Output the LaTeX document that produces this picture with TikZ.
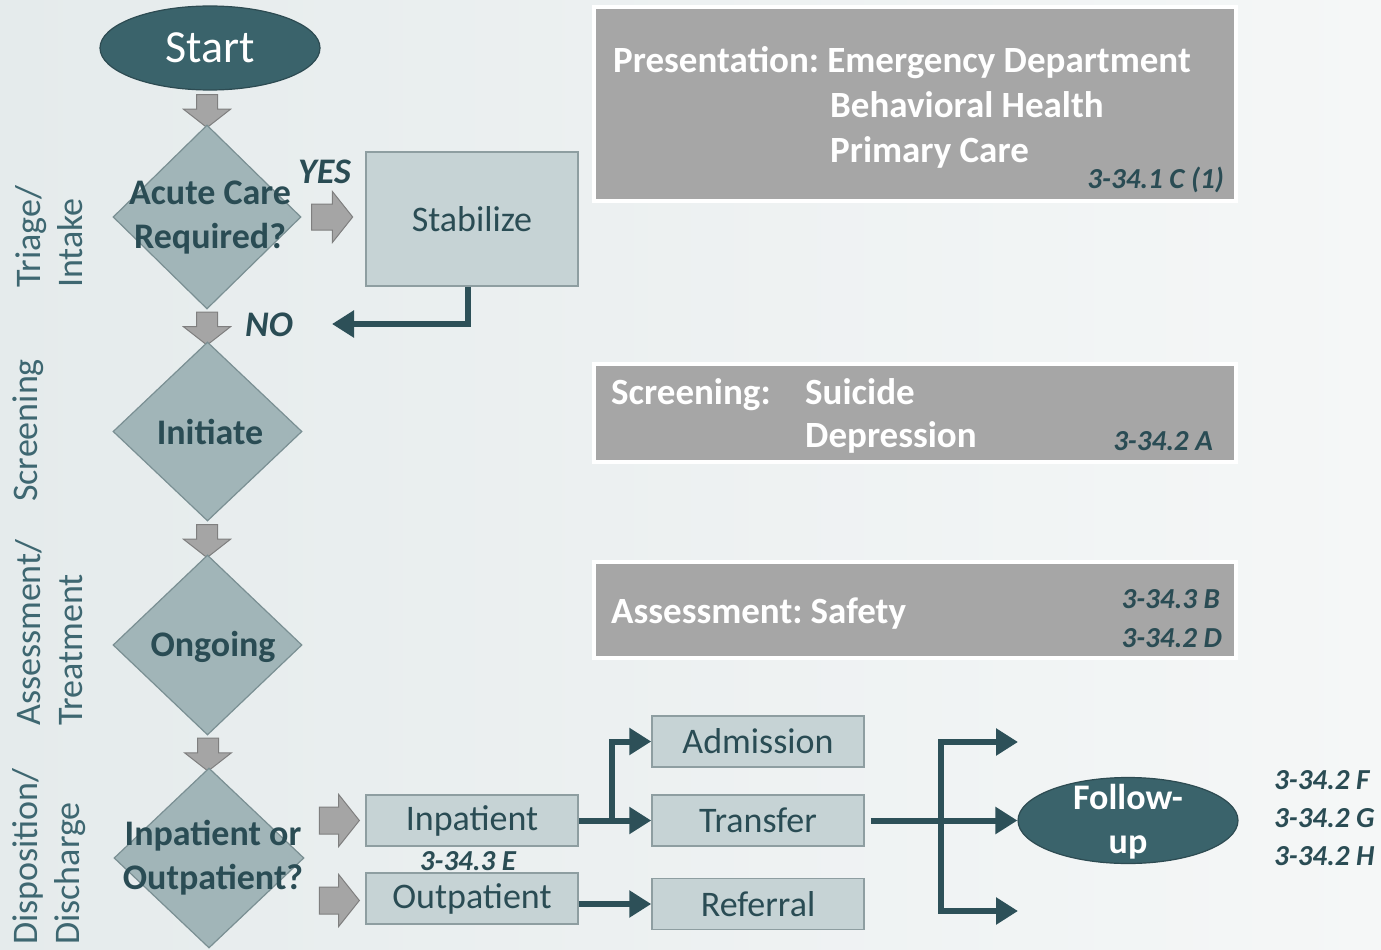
\documentclass[tikz,border=0pt]{standalone}
\usepackage{fontspec}
\setmainfont{Carlito}
\usetikzlibrary{shapes.geometric,shapes.arrows,arrows.meta,calc}
\definecolor{dteal}{RGB}{58,99,107}
\definecolor{dtealB}{RGB}{45,75,82}
\definecolor{txtc}{RGB}{42,76,84}
\definecolor{connc}{RGB}{45,80,88}
\definecolor{diaF}{RGB}{161,181,184}
\definecolor{diaB}{RGB}{122,143,147}
\definecolor{boxF}{RGB}{198,211,213}
\definecolor{boxB}{RGB}{142,158,161}
\definecolor{grayF}{RGB}{166,166,166}
\definecolor{barF}{RGB}{165,165,165}
\definecolor{barB}{RGB}{127,127,127}
\definecolor{sidec}{RGB}{62,103,113}
\definecolor{bgL}{RGB}{229,235,236}
\definecolor{bgR}{RGB}{245,247,247}
\tikzset{
 oval/.style={ellipse, draw=dtealB, fill=dteal, line width=1.2pt, inner sep=0pt, text=white},
 dia/.style={diamond, draw=diaB, fill=diaF, line width=1.2pt, inner sep=0pt},
 dtext/.style={text=txtc, font=\bfseries\fontsize{36}{44}\selectfont, align=center, inner sep=0pt},
 lbox/.style={rectangle, draw=boxB, fill=boxF, line width=1.5pt, minimum width=212, inner sep=0pt, text=txtc, font=\fontsize{36}{44}\selectfont},
 gbox/.style={rectangle, draw=white, fill=grayF, line width=4pt, minimum width=642, inner sep=0pt},
 wtext/.style={text=white, font=\bfseries\fontsize{37}{44}\selectfont, inner sep=0pt},
 reftxt/.style={text=txtc, font=\bfseries\itshape\fontsize{29}{38}\selectfont, inner sep=0pt},
 yn/.style={text=txtc, font=\bfseries\itshape\fontsize{36}{40}\selectfont, inner sep=0pt},
 downarr/.style={single arrow, rotate=-90, draw=barB, fill=barF, line width=1pt, minimum height=33, minimum width=46, single arrow head extend=13, single arrow tip angle=104, inner xsep=0pt, inner ysep=10pt},
 rightarr/.style={single arrow, draw=barB, fill=barF, line width=1pt, minimum height=41, minimum width=50, single arrow head extend=12.5, single arrow tip angle=103, inner xsep=0pt, inner ysep=12.5pt},
 conn/.style={draw=connc, line width=6pt, -{Triangle[length=22pt,width=26pt]}},
 sidelab/.style={text=sidec, font=\fontsize{36}{42}\selectfont, rotate=90, align=left, inner sep=0pt, anchor=west},
}
\begin{document}
\begin{tikzpicture}[x=1pt,y=-1pt]
\useasboundingbox (0,0) rectangle (1381,950);
\shade[left color=bgL, right color=bgR] (0,0) rectangle (1381,950);

% side labels
\node[sidelab] (lt) at (49,288) {Triage/\\Intake};
\node[sidelab] (ls) at (28,502) {Screening};
\node[sidelab] (la) at (49,726) {Assessment/\\Treatment};
\node[sidelab] (ld) at (49,945) {Disposition/\\Discharge};

% main column
\node[oval, minimum width=220, minimum height=84, font=\fontsize{46}{50}\selectfont] (start) at (210,48) {Start};
\node[downarr] (a1) at (207,107) {};
\node[dia, minimum width=188, minimum height=184] (d1) at (207,217) {};
\node[dtext] (t1) at (210,218) {Acute Care\\Required?};
\node[rightarr] (a2) at (327,217) {};
\node[lbox, minimum height=134] (stab) at (472,219) {Stabilize};
\node[yn, anchor=base west] (yes) at (298,183) {YES};
\node[downarr] (a3) at (207,324.5) {};
\node[yn, anchor=base west] (no) at (245,336) {NO};
\coordinate (noend) at (332,324);
\draw[conn] ([xshift=-4pt]stab.south) |- (noend);

\node[dia, minimum width=189, minimum height=179] (d2) at (207.5,431.5) {};
\node[dtext] (t2) at (210,432) {Initiate};
\node[downarr] (a4) at (207,537) {};
\node[dia, minimum width=189, minimum height=180] (d3) at (207.5,645) {};
\node[dtext] (t3) at (213,647) {Ongoing};
\node[downarr] (a5) at (208,750.5) {};
\node[dia, minimum width=190, minimum height=180] (d4) at (209,858) {};
\node[dtext] (t4) at (213,858) {Inpatient or\\Outpatient?};

% disposition
\node[rightarr, minimum height=40, minimum width=51, single arrow head extend=12.5, inner ysep=13pt] (a6) at (334,820.5) {};
\node[rightarr, minimum height=40, minimum width=51, single arrow head extend=12.5, inner ysep=13pt] (a7) at (334,900.5) {};
\node[lbox, minimum height=51] (inp) at (472,820.5) {Inpatient};
\node[lbox, minimum height=51] (outp) at (472,898.5) {Outpatient};
\node[reftxt, anchor=base] (r4) at (468,870) {3-34.3 E};
\node[lbox, minimum height=51] (adm) at (758,741.5) {Admission};
\node[lbox, minimum height=51] (tr) at (758,820.5) {Transfer};
\node[lbox, minimum height=51] (refl) at (758,904) {Referral};

\coordinate (br) at (612,820.5);
\draw[conn] (inp.east) -- (tr.west);
\draw[conn] (br) |- (adm.west);
\draw[conn] (outp.east |- refl.west) -- (refl.west);

\node[oval, minimum width=220, minimum height=86] (fu) at (1128,820.5) {};
\node[wtext, font=\bfseries\fontsize{36}{44}\selectfont, align=center] (fut) at (1128,822) {Follow-\\up};
\draw[conn] ([xshift=6pt]tr.east) -- (fu.west);
\coordinate (vt) at (941,742);
\coordinate (vb) at (941,911);
\coordinate (e1) at (1018,742);
\coordinate (e2) at (1018,911);
\draw[draw=connc, line width=6pt, {Triangle[length=22pt,width=26pt]}-{Triangle[length=22pt,width=26pt]}] (e1) -- (vt) -- (vb) -- (e2);

\node[reftxt, anchor=base west] (rf) at (1274,789) {3-34.2 F};
\node[reftxt, anchor=base west] (rg) at (1274,827) {3-34.2 G};
\node[reftxt, anchor=base west] (rh) at (1274,865) {3-34.2 H};

% gray boxes
\node[gbox, minimum height=194] (pres) at (915,104) {};
\node[wtext, anchor=base west] (p1) at (613,72) {Presentation:\hspace{-3pt} Emergency Department};
\node[wtext, anchor=base west] (p2) at (830,117) {Behavioral Health};
\node[wtext, anchor=base west] (p3) at (830,162) {Primary Care};
\node[reftxt, anchor=base east] (p4) at (1224,188) {3-34.1 C (1)};

\node[gbox, minimum height=98] (scr) at (915,413) {};
\node[wtext, anchor=base west] (s1) at (611,404) {Screening:};
\node[wtext, anchor=base west] (s2) at (805,404) {Suicide};
\node[wtext, anchor=base west] (s3) at (805,447) {Depression};
\node[reftxt, anchor=base east] (s4) at (1213,450) {3-34.2 A};

\node[gbox, minimum height=96] (ass) at (915,610) {};
\node[wtext, anchor=base west] (as1) at (611,623) {Assessment:\hspace{-3pt} Safety};
\node[reftxt, anchor=base east] (as2) at (1220,608) {3-34.3 B};
\node[reftxt, anchor=base east] (as3) at (1222,647) {3-34.2 D};
\end{tikzpicture}
\end{document}
